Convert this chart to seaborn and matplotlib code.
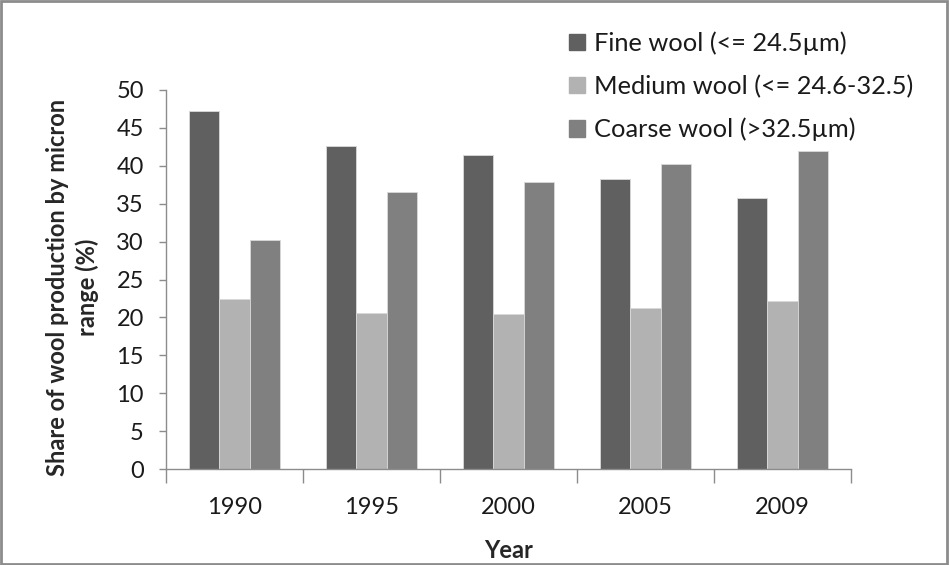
import seaborn as sns
import pandas as pd
import matplotlib.pyplot as plt
from matplotlib.patches import Rectangle

# 데이터
years = ['1990', '1995', '2000', '2005', '2009']
fine = [47.2, 42.6, 41.4, 38.2, 35.7]
medium = [22.4, 20.6, 20.4, 21.3, 22.2]
coarse = [30.2, 36.6, 37.8, 40.3, 41.9]
labels = ['Fine wool (<= 24.5\u00b5m)', 'Medium wool (<= 24.6-32.5)', 'Coarse wool (>32.5\u00b5m)']
colors = ['#606060', '#b2b2b2', '#808080']

df = pd.DataFrame({'Year': years * 3,
                   'value': fine + medium + coarse,
                   'type': [labels[0]] * 5 + [labels[1]] * 5 + [labels[2]] * 5})

sns.set_style('white')
plt.rcParams['font.family'] = ['Lato', 'DejaVu Sans']
plt.rcParams['text.color'] = '#1a1a1a'

fig = plt.figure(figsize=(9.49, 5.65), dpi=100)
ax = fig.add_axes([166 / 949, 1 - 469 / 565, 685 / 949, 379 / 565])

sns.barplot(data=df, x='Year', y='value', hue='type', palette=colors,
            width=0.66, gap=0, ax=ax, edgecolor='#d9d9d9', linewidth=0.6,
            legend=False)

ax.set_ylim(0, 50)
ax.set_xlim(-0.5, 4.5)
ax.set_yticks(range(0, 51, 5))
ax.tick_params(axis='y', labelsize=17, length=5, width=1, color='#8c8c8c',
               left=True, pad=11, labelcolor='#1a1a1a')
ax.set_xticks(range(5))
ax.set_xticks([-0.5, 0.5, 1.5, 2.5, 3.5, 4.5], minor=True)
ax.tick_params(axis='x', which='major', length=0, labelsize=17, pad=20,
               labelcolor='#1a1a1a')
ax.tick_params(axis='x', which='minor', length=10, width=1, color='#8c8c8c', bottom=True)

for s in ['top', 'right']:
    ax.spines[s].set_visible(False)
for s in ['left', 'bottom']:
    ax.spines[s].set_color('#8c8c8c')
    ax.spines[s].set_linewidth(1)

ax.set_xlabel('Year', fontsize=17, fontweight='bold')
ax.xaxis.set_label_coords(0.5, -0.185)
ax.set_ylabel('Share of wool production by micron\nrange (%)', fontsize=17,
              fontweight='bold', linespacing=1.3)
ax.yaxis.set_label_coords(-0.098, 0.48)

handles = [Rectangle((0, 0), 1, 1, color=c) for c in colors]
fig.legend(handles, labels, loc='upper left', bbox_to_anchor=(0.576, 0.985),
           frameon=False, fontsize=18.3, handlelength=0.6, handleheight=0.6,
           handletextpad=0.35, labelspacing=0.78)

# 테두리
fig.patches.append(Rectangle((0.001, 0.002), 0.997, 0.996, transform=fig.transFigure,
                             fill=False, edgecolor='#8c8c8c', linewidth=2))

fig.savefig('out.png', dpi=100)
